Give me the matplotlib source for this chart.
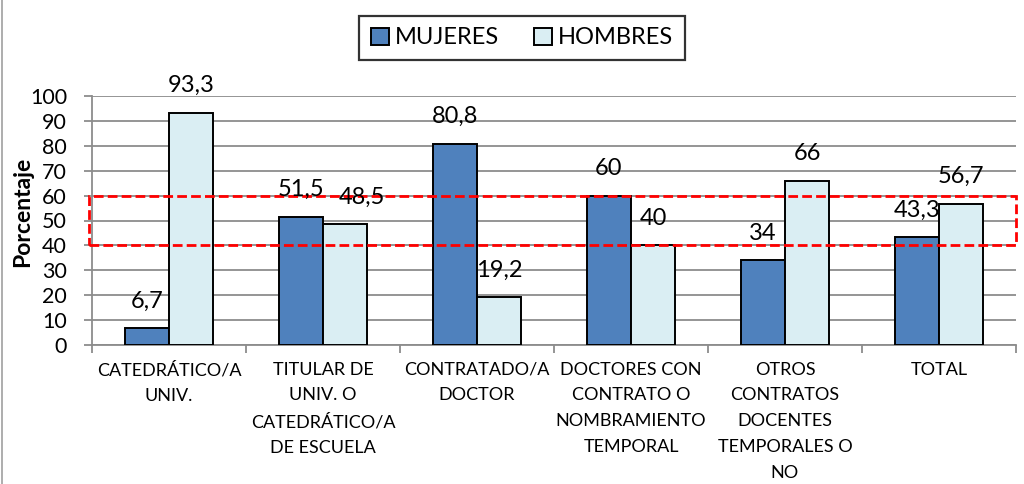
import numpy as np
import matplotlib.pyplot as plt
from matplotlib.patches import Rectangle
from matplotlib.lines import Line2D
import matplotlib.transforms as mtransforms

plt.rcParams['font.family'] = ['Lato', 'DejaVu Sans']

# Datos
categorias = ['CATEDRÁTICO/A\nUNIV.',
              'TITULAR DE\nUNIV. O\nCATEDRÁTICO/A\nDE ESCUELA',
              'CONTRATADO/A\nDOCTOR',
              'DOCTORES CON\nCONTRATO O\nNOMBRAMIENTO\nTEMPORAL',
              'OTROS\nCONTRATOS\nDOCENTES\nTEMPORALES O\nNO',
              'TOTAL']
mujeres = [6.7, 51.5, 80.8, 60, 34, 43.3]
hombres = [93.3, 48.5, 19.2, 40, 66, 56.7]
etiquetasMujeres = ['6,7', '51,5', '80,8', '60', '34', '43,3']
etiquetasHombres = ['93,3', '48,5', '19,2', '40', '66', '56,7']
series = ['MUJERES', 'HOMBRES']
franjaInferior, franjaSuperior = 40, 60

colorMujeres = '#4F81BD'
colorHombres = '#DAEEF3'
colorRejilla = '#8C8C8C'

fig = plt.figure(figsize=(10.24, 4.84), dpi=100)
ax = fig.add_axes([92 / 1024, 1 - 345 / 484, 924 / 1024, 249 / 484])

x = np.arange(len(categorias))
ancho = 1 / 3.5
barrasM = ax.bar(x - ancho / 2, mujeres, ancho, color=colorMujeres,
                 edgecolor='black', linewidth=1.4, label=series[0], zorder=3)
barrasH = ax.bar(x + ancho / 2, hombres, ancho, color=colorHombres,
                 edgecolor='black', linewidth=1.4, label=series[1], zorder=3)

# Etiquetas de valores
desplazamientoH = {1: 12}  # el 48,5 se corre a la derecha
for i, (b, t) in enumerate(zip(barrasM, etiquetasMujeres)):
    ax.annotate(t, (b.get_x() + b.get_width() / 2, b.get_height()),
                xytext=(0, 19.5), textcoords='offset points',
                ha='center', va='center', fontsize=17, zorder=5)
for i, (b, t) in enumerate(zip(barrasH, etiquetasHombres)):
    ax.annotate(t, (b.get_x() + b.get_width() / 2, b.get_height()),
                xytext=(desplazamientoH.get(i, 0), 19.5), textcoords='offset points',
                ha='center', va='center', fontsize=17, zorder=5)

ax.set_xlim(-0.5, len(categorias) - 0.5)
ax.set_ylim(0, 100)
ax.set_yticks(np.arange(0, 101, 10))
ax.tick_params(axis='y', labelsize=15.5, length=6, color=colorRejilla, width=1.3, pad=12)
ax.set_xticks(x)
ax.set_xticklabels(categorias, fontsize=13, linespacing=1.75)
ax.tick_params(axis='x', length=0, pad=12)
ax.set_xticks(np.arange(-0.5, len(categorias), 1), minor=True)
ax.tick_params(axis='x', which='minor', length=6, color=colorRejilla, width=1.3)

ax.grid(axis='y', color=colorRejilla, linewidth=1.3, zorder=0)
ax.set_axisbelow(True)
for lado in ['top', 'right']:
    ax.spines[lado].set_visible(False)
for lado in ['left', 'bottom']:
    ax.spines[lado].set_color(colorRejilla)
    ax.spines[lado].set_linewidth(1.3)

ax.set_ylabel('Porcentaje', fontsize=16.5, fontweight='bold')
ax.yaxis.set_label_coords((23 - 92) / 924, (345 - 212) / 249)
ax.yaxis.label.set_va('center')

# Recuadro rojo discontinuo de 40 a 60
trans = mtransforms.blended_transform_factory(ax.transAxes, ax.transData)
ax.add_patch(Rectangle((-0.003, franjaInferior), 1.003, franjaSuperior - franjaInferior,
                       transform=trans, fill=False, edgecolor='#FF0000',
                       linewidth=2.0, linestyle=(0, (3.5, 1.5)), clip_on=False, zorder=4))

leg = fig.legend(handles=[barrasM, barrasH], loc='center', bbox_to_anchor=(522 / 1024, 1 - 38 / 484),
                 ncol=2, fontsize=17, frameon=True, fancybox=False, edgecolor='black',
                 handlelength=0.75, handleheight=0.75, handletextpad=0.25, columnspacing=1.5,
                 borderpad=0.5, borderaxespad=0)
leg.get_frame().set_linewidth(1.6)

fig.add_artist(Line2D([2 / 1024, 2 / 1024], [0, 1], color='#A0A0A0', linewidth=1.2))

fig.savefig('out.png', dpi=100)
